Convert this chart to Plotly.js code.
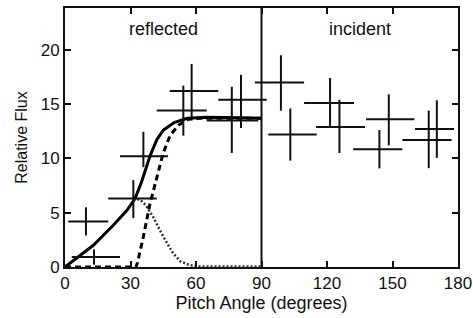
<!DOCTYPE html>
<html>
<head>
<meta charset="utf-8">
<script src="https://cdn.plot.ly/plotly-3.0.1.min.js"></script>
<style>html,body{margin:0;padding:0;background:#fff;}#chart{width:473px;height:318px;}</style>
</head>
<body>
<div id="chart"></div>
<script>
// Measured points (pitch angle bins)
const pitchAngle = [9.6, 13.3, 31.3, 35.9, 54.2, 58.0, 76.4, 80.6, 98.9, 103.2, 121.4, 125.7, 148.3, 144.0, 166.6, 170.3];
const relFlux    = [4.2, 0.92, 6.3, 10.2, 14.4, 16.2, 13.5, 15.4, 17.0, 12.2, 15.1, 12.9, 13.6, 10.85, 11.7, 12.7];
const angleErrPlus  = [10.2, 11.9, 10.7, 11.3, 10.7, 12.2, 12.1, 11.8, 10.6, 12.1, 11.0, 11.7, 11.7, 10.5, 10.5, 7.9];
const angleErrMinus = [8.1, 10.2, 11.5, 10.7, 12.2, 10.0, 11.5, 10.4, 11.9, 10.1, 11.9, 10.7, 10.4, 12.0, 12.1, 10.0];
const fluxErrPlus   = [1.3, 0.7, 1.7, 2.25, 2.3, 2.5, 3.1, 2.3, 2.5, 2.4, 2.3, 2.5, 2.3, 1.77, 2.7, 2.65];
const fluxErrMinus  = [1.3, 0.7, 1.8, 1.0, 2.3, 2.4, 3.0, 2.6, 2.6, 2.4, 2.2, 2.4, 2.4, 1.77, 2.6, 2.65];

// Model curves (reflected hemisphere)
const totalX = [0, 6.9, 13, 22.1, 28.3, 32.1, 35, 38.9, 42, 45, 50, 56, 65, 80, 90];
const totalY = [0, 1.08, 2.0, 3.84, 5.2, 6.3, 7.8, 10.2, 11.7, 12.6, 13.3, 13.7, 13.8, 13.75, 13.7];
const dashX = [0, 32.5, 33.2, 35.9, 38.9, 42.7, 45, 48.1, 51.9, 56.5, 62, 90];
const dashY = [0, 0, 0.4, 2.8, 5.8, 8.6, 10.5, 12.1, 13.05, 13.6, 13.7, 13.7];
const dotX = [31.3, 34.4, 37, 40.4, 45, 49.6, 53, 57.3, 62, 90];
const dotY = [6.3, 6.2, 5.7, 4.6, 2.8, 1.23, 0.5, 0.16, 0.05, 0.05];

const xTicks = [0, 30, 60, 90, 120, 150, 180];
const yTicks = [0, 5, 10, 15, 20];
const regionLabels = ['reflected', 'incident'];
const regionLabelX = [45, 135];

const FONT = 'Liberation Sans, Arial, Helvetica, sans-serif';

const traces = [
  {x: totalX, y: totalY, mode: 'lines', line: {color: '#000', width: 3}, hoverinfo: 'skip'},
  {x: dashX, y: dashY, mode: 'lines', line: {color: '#000', width: 3, dash: '6px,4px'}, hoverinfo: 'skip'},
  {x: dotX, y: dotY, mode: 'lines', line: {color: '#333', width: 2.5, dash: '2px,2px'}, hoverinfo: 'skip'},
  {
    x: pitchAngle, y: relFlux, mode: 'markers',
    marker: {size: 1, color: 'rgba(0,0,0,0)'},
    error_x: {type: 'data', symmetric: false, array: angleErrPlus, arrayminus: angleErrMinus, width: 0, thickness: 2, color: '#111'},
    error_y: {type: 'data', symmetric: false, array: fluxErrPlus, arrayminus: fluxErrMinus, width: 0, thickness: 2, color: '#111'},
    cliponaxis: false
  }
];

const layout = {
  width: 473, height: 318,
  margin: {l: 65, r: 15, t: 8, b: 51},
  paper_bgcolor: '#fff', plot_bgcolor: '#fff',
  showlegend: false,
  font: {family: FONT, color: '#111', size: 17},
  xaxis: {
    range: [0, 180], tickvals: xTicks, ticktext: xTicks.map(String),
    ticks: 'inside', ticklen: 6, tickwidth: 2, tickcolor: '#111',
    showline: true, linewidth: 2, linecolor: '#111', mirror: 'ticks',
    showgrid: false, zeroline: false,
    tickfont: {size: 17, family: FONT},
    title: {text: 'Pitch Angle (degrees)', font: {size: 18, family: FONT}, standoff: 4}
  },
  yaxis: {
    range: [0, 23.85], tickvals: yTicks, ticktext: yTicks.map(String),
    ticks: 'inside', ticklen: 6, tickwidth: 2, tickcolor: '#111',
    showline: true, linewidth: 2, linecolor: '#111', mirror: 'ticks',
    showgrid: false, zeroline: false,
    tickfont: {size: 17, family: FONT},
    title: {text: 'Relative Flux', font: {size: 16, family: FONT}, standoff: 9}
  },
  shapes: [
    {type: 'line', xref: 'x', yref: 'paper', x0: 90, x1: 90, y0: 0, y1: 1, line: {color: '#111', width: 2}}
  ],
  annotations: regionLabels.map((t, i) => ({
    text: t, x: regionLabelX[i], y: 21.9, xref: 'x', yref: 'y',
    showarrow: false, xanchor: 'center', yanchor: 'middle',
    font: {size: 18, family: FONT, color: '#111'}
  }))
};

Plotly.newPlot('chart', traces, layout, {staticPlot: true, displayModeBar: false});
</script>
</body>
</html>
